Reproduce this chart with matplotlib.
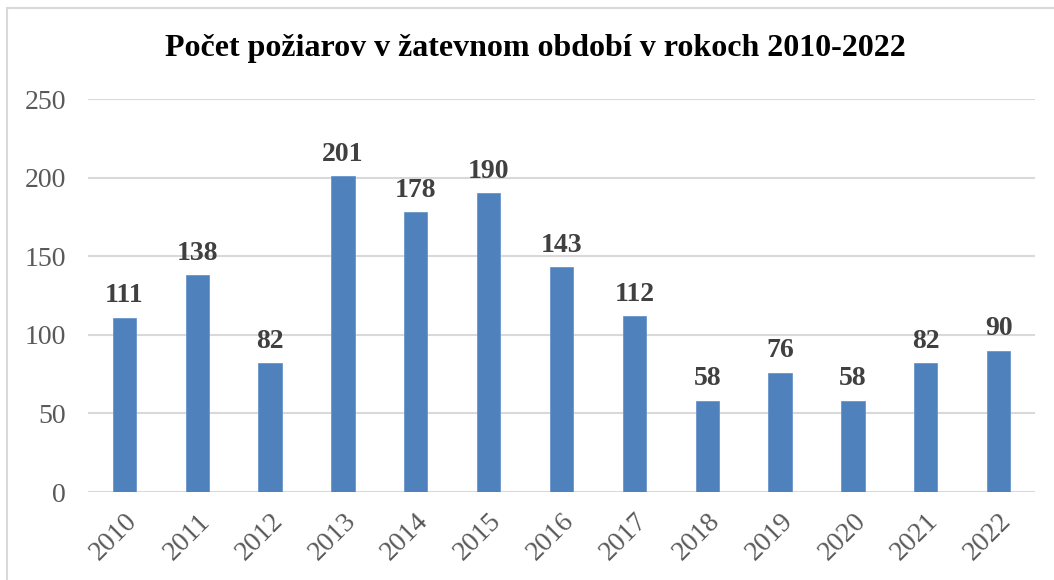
import matplotlib.pyplot as plt
from matplotlib.patches import Rectangle

# fires during harvest season, 2010-2022
years = ['2010', '2011', '2012', '2013', '2014', '2015', '2016',
         '2017', '2018', '2019', '2020', '2021', '2022']
fires = [111, 138, 82, 201, 178, 190, 143, 112, 58, 76, 58, 82, 90]
yticks = [0, 50, 100, 150, 200, 250]
title = 'Počet požiarov v žatevnom období v rokoch 2010-2022'

plt.rcParams['font.family'] = ['Liberation Serif', 'DejaVu Serif']

fig = plt.figure(figsize=(10.54, 5.8), dpi=100)
ax = fig.add_axes([0.0835, 0.1517, 0.8985, 0.6776])

x = range(len(years))
ax.bar(x, fires, width=0.32, color='#4F81BD', edgecolor='#6A96CC',
       linewidth=0.6, zorder=3)
for xi, v in zip(x, fires):
    ax.text(xi, v + 6, str(v), ha='center', va='bottom', fontsize=20,
            fontweight='bold', color='#404040')

ax.set_xlim(-0.5, len(years) - 0.5)
ax.set_ylim(0, 250)
ax.set_yticks(yticks)
ax.set_yticklabels([str(t) for t in yticks], fontsize=20, color='#595959')
ax.set_xticks(list(x))
ax.set_xticklabels(years, fontsize=20, color='#595959', rotation=45,
                   ha='right', va='top', rotation_mode='anchor')
ax.tick_params(axis='both', length=0)
ax.tick_params(axis='y', pad=16)
ax.tick_params(axis='x', pad=12)
ax.grid(axis='y', color='#D9D9D9', linewidth=1.5, zorder=0)
for s in ax.spines.values():
    s.set_visible(False)

fig.text(0.508, 0.916, title, ha='center', va='center', fontsize=23,
         fontweight='bold', color='black')

# chart frame (right/bottom edges fall outside the image)
fig.patches.append(Rectangle((7 / 1054, -0.1), 1.2, 1.1 - 8 / 580,
                             transform=fig.transFigure, fill=False,
                             edgecolor='#D9D9D9', linewidth=1.5))

fig.savefig('out.png', dpi=100)
